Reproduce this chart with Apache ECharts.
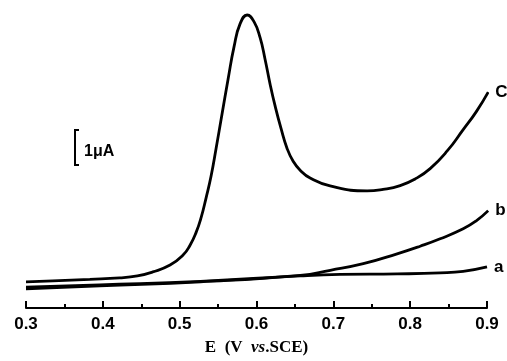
<!DOCTYPE html>
<html>
<head>
<meta charset="utf-8">
<script src="https://cdn.jsdelivr.net/npm/echarts@6/dist/echarts.min.js"></script>
<style>
  html, body { margin: 0; padding: 0; background: #fff; }
  #chart { width: 507px; height: 361px; }
</style>
</head>
<body>
<div id="chart"></div>
<script>
// potential in V vs. SCE, current in uA (baseline at the axis)
const xTicks = [0.3, 0.4, 0.5, 0.6, 0.7, 0.8, 0.9];

const curveC = [
  [0.300, 0.757], [0.335, 0.786], [0.383, 0.829], [0.422, 0.871], [0.445, 0.929],
  [0.465, 1.043], [0.4875, 1.243], [0.5044, 1.529], [0.5135, 1.814], [0.5214, 2.186],
  [0.5279, 2.614], [0.5344, 3.186], [0.5409, 3.814], [0.5474, 4.614], [0.5552, 5.614],
  [0.5630, 6.614], [0.5708, 7.557], [0.5786, 8.214], [0.5878, 8.471], [0.5969, 8.271],
  [0.6047, 7.814], [0.6112, 7.186], [0.6177, 6.471], [0.6242, 5.843], [0.6320, 5.186],
  [0.6398, 4.614], [0.6477, 4.243], [0.6568, 3.986], [0.6698, 3.757], [0.6958, 3.529],
  [0.7440, 3.386], [0.7648, 3.430], [0.7870, 3.540], [0.8065, 3.730], [0.8260, 4.030],
  [0.8482, 4.540], [0.8690, 5.157], [0.8859, 5.671], [0.9016, 6.243]
];

const curveB = [
  [0.300, 0.557], [0.396, 0.643], [0.527, 0.757], [0.657, 0.943], [0.696, 1.091],
  [0.739, 1.280], [0.783, 1.566], [0.813, 1.786], [0.839, 2.000], [0.869, 2.290],
  [0.886, 2.520], [0.9016, 2.814]
];

const curveA = [
  [0.300, 0.600], [0.396, 0.671], [0.527, 0.771], [0.657, 0.929], [0.709, 0.971],
  [0.783, 0.986], [0.839, 1.014], [0.869, 1.057], [0.900, 1.186]
];

const chart = echarts.init(document.getElementById('chart'));

const line = (name, data) => ({
  name: name,
  type: 'line',
  data: data,
  smooth: 0.5,
  showSymbol: false,
  silent: true,
  lineStyle: { color: '#000', width: 2.8 },
  endLabel: {
    show: true,
    formatter: name,
    distance: 7,
    color: '#000',
    fontFamily: 'Liberation Sans, Arial, sans-serif',
    fontWeight: 'bold',
    fontSize: 17
  }
});

chart.setOption({
  animation: false,
  backgroundColor: '#fff',
  grid: { left: 26, right: 20, top: 14, bottom: 49.5 },
  xAxis: {
    type: 'value',
    min: 0.3,
    max: 0.9,
    interval: 0.1,
    splitLine: { show: false },
    axisLine: { lineStyle: { color: '#000', width: 2 } },
    axisTick: { inside: true, length: 7, lineStyle: { color: '#000', width: 2 } },
    minorTick: { show: true, splitNumber: 2, length: 4, lineStyle: { color: '#000', width: 2 } },
    axisLabel: {
      margin: 8,
      color: '#000',
      fontFamily: 'Liberation Sans, Arial, sans-serif',
      fontWeight: 'bold',
      fontSize: 17,
      formatter: v => v.toFixed(1),
      customValues: xTicks
    },
    name: '{b|E  (V  }{i|vs}{b|.SCE)}',
    nameLocation: 'middle',
    nameGap: 31,
    nameTextStyle: {
      rich: {
        b: { fontFamily: 'Liberation Serif, Times New Roman, serif', fontWeight: 'bold', fontSize: 17, color: '#000' },
        i: { fontFamily: 'Liberation Serif, Times New Roman, serif', fontWeight: 'bold', fontStyle: 'italic', fontSize: 17, color: '#000' }
      }
    }
  },
  yAxis: {
    type: 'value',
    min: 0,
    max: 8.5,
    show: false
  },
  graphic: [
    {
      type: 'polyline',
      shape: { points: [[79, 130], [75, 130], [75, 165], [79, 165]] },
      style: { stroke: '#000', lineWidth: 2, fill: null }
    },
    {
      type: 'text',
      left: 84,
      top: 144,
      style: {
        text: '1μA',
        fill: '#000',
        font: 'bold 16px "Liberation Sans", Arial, sans-serif'
      }
    }
  ],
  series: [
    line('C', curveC),
    line('b', curveB),
    line('a', curveA)
  ]
});
</script>
</body>
</html>
